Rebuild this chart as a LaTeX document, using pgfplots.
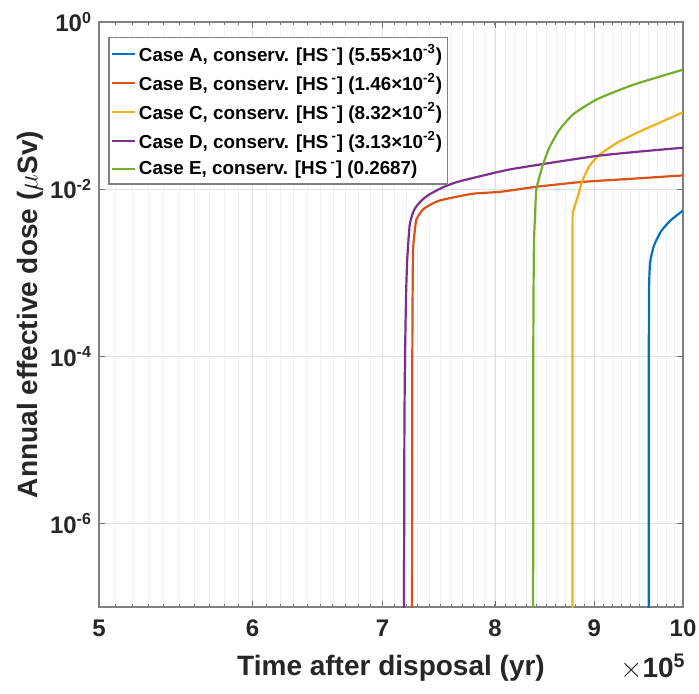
\documentclass[border=0pt]{standalone}
\usepackage{fontspec}
\setmainfont{Liberation Sans}
\usepackage{pgfplots}
\pgfplotsset{compat=1.18}

\definecolor{mA}{rgb}{0,0.447,0.741}
\definecolor{mB}{rgb}{0.85,0.325,0.098}
\definecolor{mC}{rgb}{0.929,0.694,0.125}
\definecolor{mD}{rgb}{0.494,0.184,0.556}
\definecolor{mE}{rgb}{0.466,0.674,0.188}

\begin{document}
\begin{tikzpicture}
\useasboundingbox (-49.5pt,-43pt) rectangle (300pt,303.5pt);
\begin{axis}[
    at={(0,0)}, anchor=south west,
    scale only axis,
    width=292pt, height=292.5pt,
    xmode=log, ymode=log,
    xmin=5, xmax=10,
    ymin=1e-7, ymax=1,
    xtick={5,6,7,8,9,10},
    xticklabels={5,6,7,8,9,10},
    minor xtick={5.1,5.2,...,9.95},
    ytick={1,1e-2,1e-4,1e-6},
    yticklabels={10\textsuperscript{0},10\textsuperscript{-2},10\textsuperscript{-4},10\textsuperscript{-6}},
    minor y tick style={draw=none},
    tick align=inside,
    major tick length=3pt,
    minor tick length=1.6pt,
    every tick/.style={black!55},
    axis line style={black!50, line width=0.6pt},
    xmajorgrids=true, ymajorgrids=true, xminorgrids=true, yminorgrids=false,
    major grid style={black!12, line width=0.4pt},
    minor x grid style={black!5, line width=0.35pt},
    tick label style={font=\bfseries\fontsize{12}{14}\selectfont, black!85},
    xticklabel style={yshift=-3pt},
    xlabel={\bfseries Time after disposal (yr)},
    ylabel={\bfseries Annual effective dose ($\mu$Sv)},
    label style={font=\fontsize{14}{16}\selectfont, black!85},
    xlabel style={at={(axis description cs:0.5,-0.104)}, anchor=center},
    ylabel style={at={(axis description cs:-0.118,0.5)}, anchor=center},
    legend cell align=left,
    legend image code/.code={\draw[#1, line width=1pt] (0pt,0pt) -- (11.5pt,0pt);},
    legend style={at={(axis description cs:0.016,0.975)}, anchor=north west,
        font=\bfseries\fontsize{9.4}{11}\selectfont, draw=black!50, line width=0.6pt,
        row sep=0.6pt, inner xsep=1pt, inner ysep=1.5pt,
        nodes={inner xsep=1.5pt}},
    clip mode=individual,
    every axis plot/.append style={line width=1.1pt, smooth, tension=0.35},
]
\addplot[mA] coordinates {
(9.60,1e-8) (9.602,1e-4) (9.605,6e-4) (9.61,1e-3) (9.62,1.4e-3) (9.66,2.1e-3)
(9.74,3.1e-3) (9.85,4.2e-3) (10,5.55e-3)};
\addplot[mB] coordinates {
(7.25,1e-8) (7.253,1e-4) (7.257,1e-3) (7.26,2e-3) (7.275,3.3e-3) (7.29,4.4e-3)
(7.35,5.8e-3) (7.49,7.3e-3) (7.79,8.8e-3) (8.05,9.3e-3) (8.41,1.07e-2)
(8.87,1.22e-2) (9.4,1.33e-2) (10,1.46e-2)};
\addplot[mC] coordinates {
(8.77,1e-8) (8.771,1e-4) (8.772,4.2e-3) (8.78,5.5e-3) (8.83,8.4e-3)
(8.87,1.22e-2) (8.95,1.9e-2) (9.06,2.6e-2) (9.25,3.6e-2) (9.50,4.9e-2)
(9.75,6.4e-2) (10,8.32e-2)};
\addplot[mD] coordinates {
(7.18,1e-8) (7.185,1e-5) (7.19,1e-4) (7.20,6e-4) (7.21,1.5e-3) (7.23,3.7e-3)
(7.26,5.3e-3) (7.29,6.3e-3) (7.35,7.7e-3) (7.41,8.8e-3) (7.52,1.05e-2)
(7.65,1.22e-2) (7.95,1.52e-2) (8.14,1.72e-2) (8.47,2.0e-2) (9.03,2.5e-2)
(9.5,2.82e-2) (10,3.13e-2)};
\addplot[mE] coordinates {
(8.37,1e-8) (8.372,1e-4) (8.378,2e-3) (8.39,5e-3) (8.40,9.3e-3) (8.42,1.22e-2)
(8.47,2.0e-2) (8.54,3.27e-2) (8.64,5.2e-2) (8.78,7.9e-2) (9.03,0.119)
(9.43,0.178) (10,0.2687)};
\legend{
{Case A, conserv. [HS\,\textsuperscript{-}] (5.55×10\textsuperscript{-3})},
{Case B, conserv. [HS\,\textsuperscript{-}] (1.46×10\textsuperscript{-2})},
{Case C, conserv. [HS\,\textsuperscript{-}] (8.32×10\textsuperscript{-2})},
{Case D, conserv. [HS\,\textsuperscript{-}] (3.13×10\textsuperscript{-2})},
{Case E, conserv. [HS\,\textsuperscript{-}] (0.2687)}}
\end{axis}
\node[anchor=east, font=\fontsize{14}{16}\selectfont, black!85, inner sep=0pt]
    at (293.5pt,-30pt) {$\times$\textbf{10}\textsuperscript{\bfseries 5}};
\end{tikzpicture}
\end{document}
